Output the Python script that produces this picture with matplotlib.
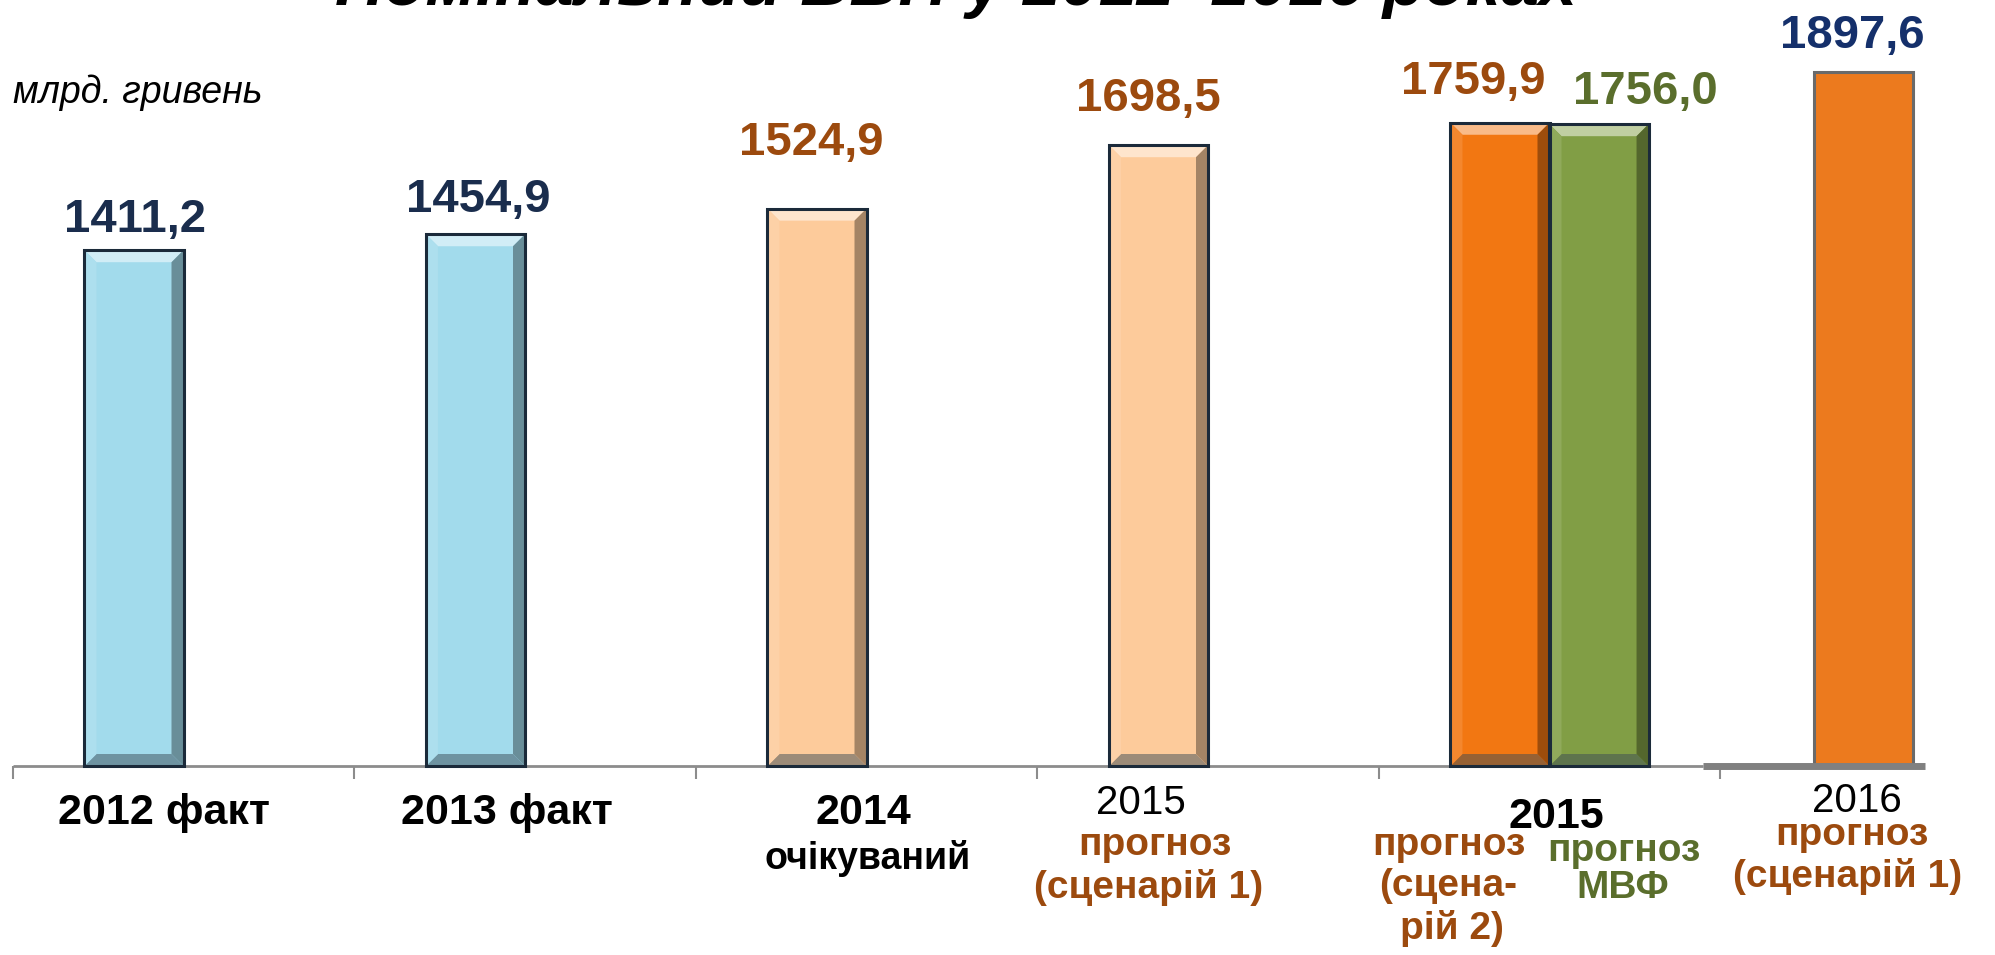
import numpy as np
import matplotlib
matplotlib.use("Agg")
import matplotlib.pyplot as plt
from matplotlib.patches import Polygon, Rectangle

plt.rcParams['font.family'] = ['Liberation Sans', 'DejaVu Sans']

# data
values = [1411.2, 1454.9, 1524.9, 1698.5, 1759.9, 1756.0, 1897.6]
bar_category = [0, 1, 2, 3, 4, 4, 5]
bar_colors = ['#A2DBEC', '#A2DBEC', '#FDCB9B', '#FDCB9B', '#F27712', '#819E45', '#EC7A1E']
value_colors = ['#1A2D4D', '#1A2D4D', '#9C4A0E', '#9C4A0E', '#9C4A0E', '#5A6E2C', '#15306B']
n_categories = 6

# layout (pixels -> data)
bar_offset = [-0.145, -0.145, -0.145, -0.145, -0.145, 0.145, -0.08]
bar_width = 0.29
label_dx = [1, 3, -6, -10, -27, 46, -11]
label_dy = [18, 22, 54, 34, 29, 20, 24]

# category labels: x (data), pixels below axis, text, colour, weight, size
cat_labels = [
    (-0.057, 58, '2012 факт', 'black', 'bold', 31),
    (0.947, 58, '2013 факт', 'black', 'bold', 31),
    (1.990, 58, '2014', 'black', 'bold', 31),
    (2.004, 103, 'очікуваний', 'black', 'bold', 27),
    (2.804, 48, '2015', 'black', 'normal', 29),
    (2.845, 89, 'прогноз', '#9C4A0E', 'bold', 28),
    (2.827, 132, '(сценарій 1)', '#9C4A0E', 'bold', 28),
    (4.019, 62, '2015', 'black', 'bold', 31),
    (3.705, 89, 'прогноз', '#9C4A0E', 'bold', 28),
    (3.702, 130, '(сцена-', '#9C4A0E', 'bold', 28),
    (3.714, 173, 'рій 2)', '#9C4A0E', 'bold', 28),
    (4.218, 95, 'прогноз', '#5A6E2C', 'bold', 28),
    (4.215, 132, 'МВФ', '#5A6E2C', 'bold', 28),
    (4.900, 46, '2016', 'black', 'normal', 29),
    (4.886, 79, 'прогноз', '#9C4A0E', 'bold', 28),
    (4.874, 121, '(сценарій 1)', '#9C4A0E', 'bold', 28),
]

W, H = 1995, 955
px_per_x = 341.5
px_per_y = 0.3655
x0_px = 183.5
base_px = 766

fig = plt.figure(figsize=(W / 100, H / 100), dpi=100)
ax = fig.add_axes([0, 0, 1, 1])
ax.set_xlim(-x0_px / px_per_x, (W - x0_px) / px_per_x)
ax.set_ylim(-(H - base_px) / px_per_y, base_px / px_per_y)
ax.axis('off')


def mix(c, other, t):
    a = np.array(matplotlib.colors.to_rgb(c))
    b = np.array(matplotlib.colors.to_rgb(other))
    return tuple(a * (1 - t) + b * t)


bx = 12 / px_per_x
by = 12 / px_per_y
for i, v in enumerate(values):
    xc = bar_category[i] + bar_offset[i]
    xl, xr = xc - bar_width / 2, xc + bar_width / 2
    col = bar_colors[i]
    last = i == len(values) - 1
    edge = '#6A6A6A' if last else '#1B2A3A'
    ax.add_patch(Rectangle((xl, 0), bar_width, v, facecolor=col, edgecolor='none', zorder=2))
    if not last:
        ax.add_patch(Polygon([(xl, v), (xr, v), (xr - bx, v - by), (xl + bx, v - by)],
                             facecolor=mix(col, 'white', 0.5), edgecolor='none', zorder=3))
        ax.add_patch(Polygon([(xl, 0), (xr, 0), (xr - bx, by), (xl + bx, by)],
                             facecolor=mix(col, '#3A4A55', 0.5), edgecolor='none', zorder=3))
        ax.add_patch(Polygon([(xl, 0), (xl, v), (xl + bx, v - by), (xl + bx, by)],
                             facecolor=mix(col, 'white', 0.12), edgecolor='none', zorder=3))
        ax.add_patch(Polygon([(xr, 0), (xr, v), (xr - bx, v - by), (xr - bx, by)],
                             facecolor=mix(col, 'black', 0.35), edgecolor='none', zorder=3))
    ax.add_patch(Rectangle((xl, 0), bar_width, v, facecolor='none', edgecolor=edge,
                           linewidth=2.2, zorder=4))
    ax.annotate(f"{v:.1f}".replace('.', ','), xy=(xc, v),
                xytext=(label_dx[i], label_dy[i]), textcoords='offset pixels',
                ha='center', va='baseline', fontsize=34, fontweight='bold',
                color=value_colors[i], zorder=5)

# axis line with ticks at category boundaries
bounds = np.arange(n_categories) - 0.5
ax.hlines(0, -0.5, 4.45, color='#8C8C8C', linewidth=2, zorder=1)
ax.hlines(0, 4.45, 5.1, color='#808080', linewidth=5, zorder=5)
ax.vlines(bounds, -13 / px_per_y, 0, color='#8C8C8C', linewidth=1.5, zorder=1)

for x, dy, txt, c, wt, sz in cat_labels:
    ax.annotate(txt, xy=(x, 0), xytext=(0, -dy), textcoords='offset pixels',
                ha='center', va='baseline', fontsize=sz, fontweight=wt, color=c)

fig.text(13 / W, 1 - 103 / H, 'млрд. гривень', fontsize=27, fontstyle='italic',
         ha='left', va='baseline')
fig.text(956 / W, 1 - 5 / H, 'Номінальний ВВП у 2012–2016 роках', fontsize=49,
         fontweight='bold', fontstyle='italic', ha='center', va='baseline')

fig.savefig('out.png', dpi=100)
